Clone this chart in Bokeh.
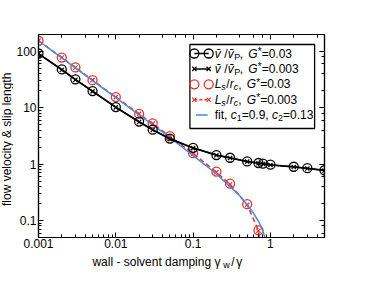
import math
from bokeh.plotting import figure
from bokeh.layouts import row, column
from bokeh.models import LogAxis, LogTicker, CustomJSTickFormatter, Range1d
from bokeh.core.properties import value
from bokeh.embed import file_html
from bokeh.resources import INLINE

# ---- data ----
damp_v = [0.001, 0.002, 0.003, 0.005, 0.01, 0.02, 0.03, 0.05, 0.1, 0.2, 0.3, 0.5, 0.7, 0.8, 1, 2, 3, 5]
vel_G03 = [92, 48, 32, 19.8, 10.3, 5.7, 4.1, 2.85, 1.95, 1.45, 1.3, 1.12, 1.05, 1.02, 0.98, 0.9, 0.85, 0.78]
vel_G003 = [91, 47, 31.5, 19.6, 10.2, 5.6, 4.05, 2.8, 1.93, 1.44, 1.29, 1.11, 1.04, 1.01, 0.97, 0.89, 0.84, 0.77]

damp_L03 = [0.001, 0.002, 0.003, 0.005, 0.01, 0.02, 0.03, 0.05, 0.1, 0.2, 0.3, 0.5, 0.7]
slip_G03 = [155, 78, 52, 31, 15.5, 7.8, 5.3, 3.15, 1.57, 0.74, 0.45, 0.195, 0.067]
damp_L003 = [0.001, 0.002, 0.003, 0.005, 0.01, 0.02, 0.03, 0.05, 0.1, 0.2, 0.3, 0.5, 0.7, 0.8]
slip_G003 = [155, 78, 52, 31, 15.5, 7.8, 5.25, 3.1, 1.55, 0.72, 0.44, 0.19, 0.066, 0.012]

fit_x = [0.001, 0.002, 0.005, 0.01, 0.02, 0.05, 0.1, 0.15, 0.2, 0.3, 0.4, 0.5, 0.6, 0.7, 0.75, 0.8, 0.85, 0.87]
fit_y = [155, 77, 30.5, 15.2, 7.5, 3.0, 1.42, 0.92, 0.67, 0.4, 0.275, 0.19, 0.137, 0.097, 0.08, 0.063, 0.05, 0.04]

x_title = "wall - solvent damping  \u03b3"
y_title = "flow velocity  &  slip length"

x_lo, x_hi = 0.001, 5
y_lo, y_hi = 0.05, 200

FONT = "Liberation Sans"
BLACK = "#000000"
RED = "#e8302c"
BLUE = "#4a8ad4"

YW = 13                       # strip left of the plot holding the y title
BL, BR, BT, BB = 22, 34, 34, 16
FW, FH = 289, 203
PW, PH = BL + FW + BR, BT + FH + BB
XH = 273 - PH                 # strip below the plot holding the x title

p = figure(x_axis_type="log", y_axis_type="log",
           x_range=Range1d(x_lo, x_hi), y_range=Range1d(y_lo, y_hi),
           width=PW, height=PH,
           min_border_left=BL, min_border_right=BR, min_border_top=BT, min_border_bottom=BB,
           output_backend="svg", toolbar_location=None)
p.grid.visible = False
p.outline_line_color = BLACK
p.outline_line_width = 1.2
p.background_fill_color = "white"
p.border_fill_color = "white"

fmt = CustomJSTickFormatter(code="return Number(tick.toPrecision(6)).toString();")
blank = CustomJSTickFormatter(code="return '';")


def style_axis(ax, show_labels=True, standoff=2):
    ax.major_tick_in = 5
    ax.major_tick_out = 0
    ax.minor_tick_in = 3
    ax.minor_tick_out = 0
    ax.axis_line_color = BLACK
    ax.axis_line_width = 1.2
    ax.major_tick_line_color = BLACK
    ax.minor_tick_line_color = BLACK
    ax.major_label_text_font = FONT
    ax.major_label_text_color = BLACK
    ax.major_label_text_font_size = "12px"
    if show_labels:
        ax.major_label_standoff = standoff
        ax.formatter = fmt
    else:
        ax.major_label_standoff = 0
        ax.formatter = blank


style_axis(p.xaxis[0], standoff=1)
style_axis(p.yaxis[0], standoff=2)
top_ax = LogAxis(ticker=LogTicker())
right_ax = LogAxis(ticker=LogTicker())
style_axis(top_ax, False)
style_axis(right_ax, False)
p.add_layout(top_ax, "above")
p.add_layout(right_ax, "right")

# ---- data marks ----
p.line(damp_L003, slip_G003, line_color=RED, line_width=1.5, line_dash="5 3")
p.scatter(damp_L03, slip_G03, marker="circle", size=9, fill_color=None, line_color=RED, line_width=1.3)
p.scatter(damp_L003, slip_G003, marker="x", size=6, line_color=RED, line_width=1.2)
p.line(fit_x, fit_y, line_color=BLUE, line_width=1.5)
p.line(damp_v, vel_G003, line_color=BLACK, line_width=1.5)
p.line(damp_v, vel_G03, line_color=BLACK, line_width=1.5)
p.scatter(damp_v, vel_G03, marker="circle", size=9, fill_color=None, line_color=BLACK, line_width=1.3)
p.scatter(damp_v, vel_G003, marker="x", size=6, line_color=BLACK, line_width=1.2)

# ---- legend (frame-relative pixel layout converted to data coords) ----
XD = math.log10(x_hi) - math.log10(x_lo)
YD = math.log10(y_hi) - math.log10(y_lo)


def fx(dx):
    return 10 ** (math.log10(x_lo) + dx / FW * XD)


def fy(dy):
    return 10 ** (math.log10(y_hi) - dy / FH * YD)


p.quad(left=[fx(153)], right=[fx(279)], top=[fy(10)], bottom=[fy(94)],
       fill_color="white", line_color=BLACK, line_width=1.3)

rows = [19, 34.4, 49.8, 65.2, 80.6]
gx = [fx(157.5), fx(172)]
p.line(gx, [fy(rows[0])] * 2, line_color=BLACK, line_width=1.5)
p.scatter(gx, [fy(rows[0])] * 2, marker="circle", size=9, fill_color=None, line_color=BLACK, line_width=1.3)
p.line(gx, [fy(rows[1])] * 2, line_color=BLACK, line_width=1.5)
p.scatter(gx, [fy(rows[1])] * 2, marker="x", size=6, line_color=BLACK, line_width=1.2)
p.scatter(gx, [fy(rows[2])] * 2, marker="circle", size=9, fill_color=None, line_color=RED, line_width=1.3)
p.line(gx, [fy(rows[3])] * 2, line_color=RED, line_width=1.5, line_dash="3 2")
p.scatter(gx, [fy(rows[3])] * 2, marker="x", size=6, line_color=RED, line_width=1.2)
p.line([fx(159), fx(171)], [fy(rows[4])] * 2, line_color=BLUE, line_width=1.5)

TX = 178


def piece(row_i, txt, dx, dy=0, size=12, style="normal"):
    p.text(x=[fx(TX)], y=[fy(rows[row_i])], text=[txt], x_offset=dx, y_offset=dy,
           text_font=value(FONT), text_font_size=f"{size}px", text_font_style=style,
           text_color=BLACK, text_baseline="middle", text_align="left")


for r, g in ((0, "=0.03"), (1, "=0.003")):
    piece(r, "v\u0304", 0, style="italic")
    piece(r, "/", 9.5)
    piece(r, "v\u0304", 13, style="italic")
    piece(r, "P", 19.5, dy=3, size=9)
    piece(r, ",", 25)
    piece(r, "G", 33.5, style="italic")
    piece(r, "*", 43, dy=-2, size=10)
    piece(r, g, 47)

for r, g in ((2, "=0.03"), (3, "=0.003")):
    piece(r, "L", 0, style="italic")
    piece(r, "s", 6.7, dy=3, size=9, style="italic")
    piece(r, "/", 11.5)
    piece(r, "r", 15, style="italic")
    piece(r, "c", 19, dy=3, size=9, style="italic")
    piece(r, ",", 23.5)
    piece(r, "G", 32, style="italic")
    piece(r, "*", 41.5, dy=-2, size=10)
    piece(r, g, 45.5)

piece(4, "fit,", 0)
piece(4, "c", 16, style="italic")
piece(4, "1", 22, dy=3, size=9)
piece(4, "=0.9,", 27)
piece(4, "c", 57.3, style="italic")
piece(4, "2", 63.3, dy=3, size=9)
piece(4, "=0.13", 68.3)


# ---- title strips ----
def strip(w, h):
    f = figure(width=w, height=h, x_range=Range1d(0, w), y_range=Range1d(0, h),
               x_axis_type=None, y_axis_type=None, min_border=0,
               output_backend="svg", toolbar_location=None)
    f.grid.visible = False
    f.outline_line_color = None
    f.background_fill_color = "white"
    f.border_fill_color = "white"
    return f


def stext(f, txt, x, y, size=12, angle=0.0, align="left", baseline="alphabetic"):
    f.text(x=[x], y=[y], text=[txt], angle=angle, text_font=value(FONT),
           text_font_size=f"{size}px", text_color=BLACK,
           text_align=align, text_baseline=baseline)


xs = strip(PW, XH)
xb = XH - 8.5
xe = BL + 201.5              # right end of the main part of the x title
stext(xs, x_title, xe, xb, align="right")
stext(xs, "w", xe - 0.5, xb - 3, size=9)
stext(xs, "/", xe + 9, xb)
stext(xs, "\u03b3", xe + 15, xb)

ys = strip(YW, PH + XH)
stext(ys, y_title, 6.5, PH + XH - (BT + FH / 2), angle=math.pi / 2,
      align="center", baseline="middle")

layout = row(ys, column(p, xs))

open("out.html", "w").write(file_html(layout, INLINE))
